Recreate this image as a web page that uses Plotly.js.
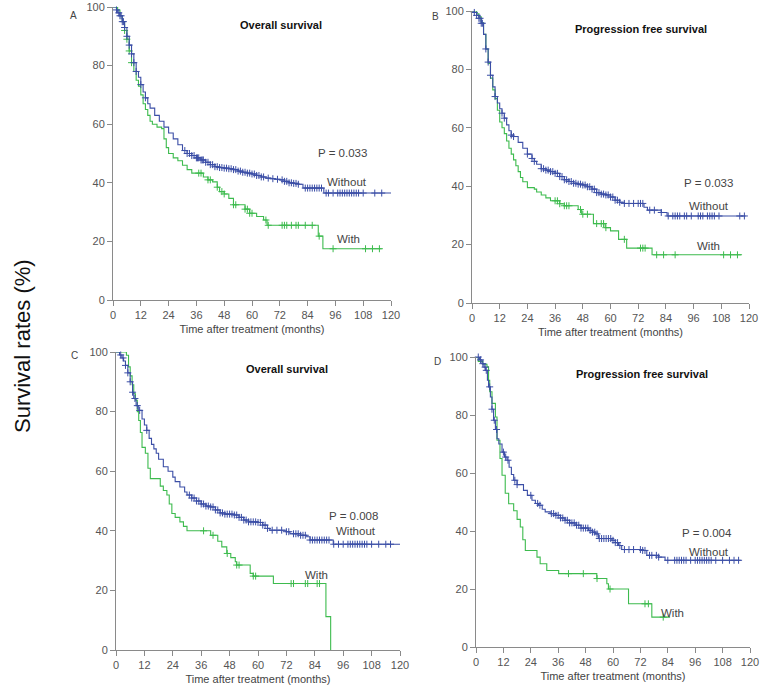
<!DOCTYPE html>
<html>
<head>
<meta charset="utf-8">
<script src="https://cdn.plot.ly/plotly-3.0.1.min.js"></script>
<style>html,body{margin:0;padding:0;background:#fff;}#chart{width:763px;height:691px;}</style>
</head>
<body>
<div id="chart"></div>
<script>
// ---------- DATA ----------
// Panel A : Overall survival
const A_without_t = [0,1.5,2,3,4,5,6,7,8,9,10,11,12,13,14,15,16,18,20,22,24,26,28,30,32,34,36,38,40,42,44,46,48,50,52,54,56,58,60,62,64,66,68,70,72,74,76,78,80,82,91,120];
const A_without_s = [100,99,98,97,95,93,90,87,84,81,78,76,73.5,71,69,67,65.5,63,61,59,57,55,53,51,50,49.3,48.5,47.8,47,46.2,45.5,45.2,45,44.8,44.5,44,43.6,43.3,43,42.5,42,41.6,41.4,41.2,41,40.5,40,39.8,39.5,38.2,36.5,36.5];
const A_without_c = [1.5,2.5,3,3.5,4,4.5,5,6,7,8,9,10,12,14,31,32,33,34,35,36,36.5,37,38,38.5,39,40,41,42,43,44,45,46,47,48,49,50,51,52,53,54,55,56,57,58,59,60,61,62,63,64,65,67,69,71,73,74,75,76,77,78,79,80,83,84,85,86,87,88,89,90,92,93,95,97,98,99,100,101,102,103,104,105,106,108,113,116];
const A_with_t = [0,2,3,4,5,6,7,8,9,10,11,12,13,14,15,16,17,19,21,22,23,24,26,28,30,32,34,39,41,43,45,46,48,50,52,57,59,62,65,66.5,88.6,90.6,116];
const A_with_s = [100,99,97,95,92,89,85,81,78,75,73,70,67,65,63,61,60,59,58.5,55,52,50,48.5,47.5,46,44.5,43.3,42,41,40.3,38.5,37,36.2,34.7,32.5,31,29.6,28.5,27.3,25.5,21.8,17.5,17.5];
const A_with_c = [5,6,7,8,37,38,41,42,45,47,48,52,53,57,58,59,60,66,67,73,74,75,77,79,80,83,86,89,95,109,112,115];
const A_p = "P = 0.033";

// Panel B : Progression free survival
const B_without_t = [0,1,2,3,4,5,6,7,8,9,10,11,12,13,14,15,16,17,18,20,22,24,26,27,28,30,32,34,36,38,40,42,44,46,48,50,52,54,56,58,60,62,64,66,74.5,76,82,84.5,118.5];
const B_without_s = [100,99.5,98.5,97.5,95.8,92,87,82.5,78,74,70.7,68.5,66.5,65,63.3,61,59,57.5,57,55,53,51,49.5,48.5,47.5,46,45.5,45,44.4,43.3,42.2,41.6,41,40.7,40.4,39.8,39,37.8,37.3,37,36.3,35.2,34.5,34.1,32.8,31.8,31,29.8,29.8];
const B_without_c = [1,2,3,3.5,4,4.5,6,7,8,10,13,14,17,18,24,26,27,30,31,32,33,34,35,36,37,38,39,40,41,42,43,44,45,46,47,48,49,50,51,52,53,54,55,56,57,58,59,60,61,62,63,64,66,68,70,72,73,74,77,79,82,85,87,88,89,90,92,93,95,98,99,100,102,103,104,105,107,116,118];
const B_with_t = [0,2,3,4,5,6,7,8,9,10,11,12,13,14,15,16,17,18,19,20,21,22,24,27,28,30,32,34,38,40,46,47.5,52.6,57.7,60,63.5,67,78,117];
const B_with_s = [100,99,98,96,92,87,82,77,73,70,66,62,60,58,55.5,53,51,49,47,45,43,41.5,39.5,39,38,37,36,35,34,33.3,32,30.4,27.2,25.8,24.7,21.8,18.8,16.5,16.5];
const B_with_c = [36,37,38,40,41,42,47,48,50,54,56,57,58,66,73,74,75,80,83,88,109,112,115];
const B_p = "P = 0.033";

// Panel C : Overall survival
const C_without_t = [0,1.5,2.5,3.2,4,5,6,7,7.5,8.5,9.6,11,12,13,14,15,16,17,18,20,22,24,25,27,29,30,32,34,36,38,40,42,44,46,50,52,54,56,60,62,64,65,72,73.5,78,80.6,82,91.8,120];
const C_without_s = [100,99,98,97,95.5,93,90,86.5,84.4,82,80.4,77.5,75.5,73.7,71,69,67.5,66,64,61.5,60,58,56.5,54.7,53,52,51,50,49,48.3,48,47,46,45.6,45.3,44.5,43.6,43,42.8,41.9,40.8,40.2,39.7,39,38.5,38,36.9,35.5,35.5];
const C_without_c = [2,3,4,5,6,7,8,9,10,13,31,32,33,34,35,36,37,38,39,40,41,42,43,44,45,46,47,48,49,50,51,52,53,54,55,56,57,58,59,60,61,62,63,64,66,68,70,72,73,75,76,77,78,79,80,82,83,84,85,86,87,88,89,90,92,94,96,98,99,100,101,102,103,104,105,106,108,111,114,116];
const C_with_t = [0,4.4,5.3,6,6.8,7.5,8.2,9,9.6,10.3,11,12.4,13.5,14.5,18.7,20,21.5,22.5,23.6,25,27,28.5,30,40,43,44.7,46.8,48.5,50.4,51,56.7,58,66.5,88.7,90.7];
const C_with_s = [100,98.9,95,92,89,86,83.8,80,77,73,68,66,61,57.5,55,53.5,52,49,45.8,44.5,43,41.5,40,38.5,36.5,34.6,32.4,31,29.6,28.5,25.7,24.8,22.3,11.2,0];
const C_with_c = [37,41,47,51,52,58,59,74,75,80,81,85,86];
const C_p = "P = 0.008";

// Panel D : Progression free survival
const D_without_t = [0,1.5,2.6,3.5,4.1,5,5.5,6.3,7,7.7,8.5,9.2,10,11.4,12.5,13.6,14.5,15.5,16.5,18,20.8,22.5,24.5,26,27.4,29,30.3,32.5,34.7,37,39,41,43.4,46,49.3,51,52.2,53.6,59.5,61,62.4,63.8,72.6,74.8,79.9,82.8,116];
const D_without_s = [100,99,97.7,96.5,95.4,92,89.7,86.2,82,78.2,75,71.8,70,67.2,65.5,64.4,62,59.5,57.5,56,54,52.3,50.6,49.5,48.9,47.5,46.6,46,45.4,44.5,43.7,42.8,42,41,40.2,39.6,39,37.4,36.8,36,35,33.6,33.3,31.6,31,29.9,29.9];
const D_without_c = [1,2,3,4,4.5,6,7,8,9,12,13,14,17,18,24,27,28,33,34,35,36,37,38,39,40,41,42,43,44,45,46,47,48,49,50,51,52,53,54,55,56,57,58,59,60,61,62,63,65,67,69,72,73,74,76,77,79,80,84,87,88,89,90,91,92,94,96,97,98,99,100,101,102,103,105,108,111,113,115];
const D_with_t = [0,1,3,4.8,5.5,6,7,8.5,9.2,10.5,11.4,12.8,14.3,16.5,18,19.4,20.5,21.6,26.7,28.1,31,36.2,52.9,57.3,58,66.8,77,85];
const D_with_s = [100,98.5,97.5,96.6,92,88,84,79.3,71.3,65,59.2,53,49.4,47,44,41.4,37,33.3,31,28.7,26.4,25.3,23.6,21.8,20,14.9,10.3,10.3];
const D_with_c = [40.5,47,53,58.7,74,75.5,82];
const D_p = "P = 0.004";

const panelLetters = ["A","B","C","D"];
const panelTitles = ["Overall survival","Progression free survival","Overall survival","Progression free survival"];
const xTickVals = [0,12,24,36,48,60,72,84,96,108,120];
const yTickVals = [0,20,40,60,80,100];
const xTitle = "Time after treatment (months)";
const yTitle = "Survival rates (%)";
const groupNames = ["Without","With"];

// ---------- BUILD ----------
const W = 763, H = 691;
const px = v => v / W;
const py = v => 1 - v / H;
const BLUE = "#3b4ea6", GREEN = "#3dbb4e";

function survAt(t, times, surv) {
  let s = surv[0];
  for (let i = 0; i < times.length; i++) { if (times[i] <= t) s = surv[i]; else break; }
  return s;
}

const panels = [
  {wt:A_without_t, ws:A_without_s, wc:A_without_c, gt:A_with_t, gs:A_with_s, gc:A_with_c, p:A_p,
   box:[113,391,7,300], letter:[73,15], title:[281,25], pp:[342,153], wl:[347,182], gl:[348,239]},
  {wt:B_without_t, ws:B_without_s, wc:B_without_c, gt:B_with_t, gs:B_with_s, gc:B_with_c, p:B_p,
   box:[472,749,11,303], letter:[435,16], title:[641,29], pp:[708,183], wl:[709,206], gl:[708,246]},
  {wt:C_without_t, ws:C_without_s, wc:C_without_c, gt:C_with_t, gs:C_with_s, gc:C_with_c, p:C_p,
   box:[116,400,352,650], letter:[74,355], title:[287,369], pp:[353,516], wl:[356,531], gl:[316,575]},
  {wt:D_without_t, ws:D_without_s, wc:D_without_c, gt:D_with_t, gs:D_with_s, gc:D_with_c, p:D_p,
   box:[476,750,357,647], letter:[437,361], title:[642,374], pp:[707,533], wl:[709,552], gl:[672,613]}
];

const traces = [];
const layout = {
  width: W, height: H,
  margin: {l:0, r:0, t:0, b:0},
  paper_bgcolor: "#fff", plot_bgcolor: "#fff",
  showlegend: false,
  font: {family: "Liberation Sans, Arial, sans-serif", color: "#555", size: 11},
  annotations: []
};

panels.forEach((P, i) => {
  const n = i + 1;
  const xa = "x" + (n === 1 ? "" : n), ya = "y" + (n === 1 ? "" : n);
  const xk = "xaxis" + (n === 1 ? "" : n), yk = "yaxis" + (n === 1 ? "" : n);
  [[P.gt, P.gs, P.gc, GREEN], [P.wt, P.ws, P.wc, BLUE]].forEach(([t, s, c, col]) => {
    traces.push({x: t, y: s, xaxis: xa, yaxis: ya, type: "scatter", mode: "lines",
      line: {shape: "hv", color: col, width: 1.1}, hoverinfo: "skip", cliponaxis: false});
    traces.push({x: c, y: c.map(v => survAt(v, t, s)), xaxis: xa, yaxis: ya, type: "scatter", mode: "markers",
      marker: {symbol: "cross-thin-open", size: 5, color: col, line: {color: col, width: 1}}, hoverinfo: "skip", cliponaxis: false});
  });
  const [x0, x1, y0, y1] = P.box;
  layout[xk] = {domain: [px(x0), px(x1)], anchor: ya, range: [0, 120], tickmode: "array", tickvals: xTickVals,
    showline: true, linecolor: "#8a8a8a", linewidth: 1, ticks: "outside", ticklen: 5, tickcolor: "#8a8a8a",
    showgrid: false, zeroline: false, tickfont: {size: 11, color: "#555"},
    title: {text: xTitle, font: {size: 11, color: "#444"}, standoff: 5}};
  layout[yk] = {domain: [py(y1), py(y0)], anchor: xa, range: [0, 100], tickmode: "array", tickvals: yTickVals,
    showline: true, linecolor: "#8a8a8a", linewidth: 1, ticks: "outside", ticklen: 5, tickcolor: "#8a8a8a",
    showgrid: false, zeroline: false, tickfont: {size: 11, color: "#555"}};
  const ann = (text, pos, opts) => layout.annotations.push(Object.assign({
    text: text, xref: "paper", yref: "paper", x: px(pos[0]), y: py(pos[1]),
    xanchor: "center", yanchor: "middle", showarrow: false,
    font: {size: 11, color: "#444"}}, opts || {}));
  ann(panelLetters[i], P.letter, {font: {size: 10, color: "#444"}});
  ann("<b>" + panelTitles[i] + "</b>", P.title, {font: {size: 11, color: "#111"}});
  ann(P.p, P.pp, {font: {size: 11.5, color: "#444"}});
  ann(groupNames[0], P.wl, {font: {size: 11.5, color: "#444"}});
  ann(groupNames[1], P.gl, {font: {size: 11.5, color: "#444"}});
});

layout.annotations.push({text: yTitle, xref: "paper", yref: "paper", x: px(22), y: py(346),
  xanchor: "center", yanchor: "middle", textangle: -90, showarrow: false,
  font: {size: 22, color: "#111"}});

Plotly.newPlot("chart", traces, layout, {displayModeBar: false, staticPlot: true});
</script>
</body>
</html>
